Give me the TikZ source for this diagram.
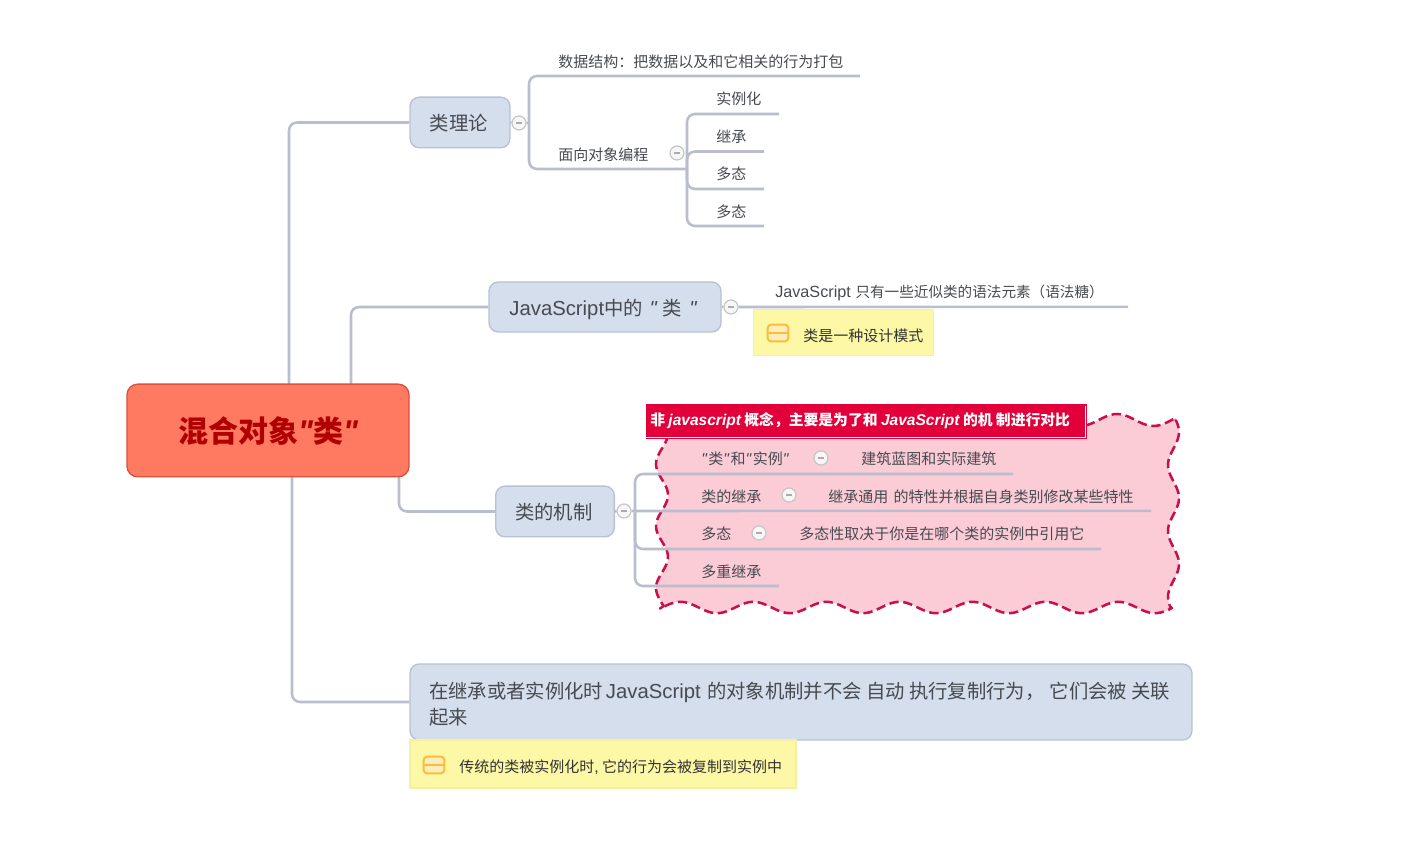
\documentclass[tikz,border=0pt]{standalone}
\usepackage{fontspec}
\setmainfont{Noto Sans CJK SC}
\newfontfamily\lat{Liberation Sans}[Scale=1.05]
\newfontfamily\latl{Liberation Sans}[Scale=1.08]
\newcommand\la[1]{{\lat #1}}
\newcommand\iq{\la{\itshape "}\hspace{1.2pt}}
\definecolor{linec}{HTML}{B9BDCD}
\definecolor{boxf}{HTML}{D5DEEC}
\definecolor{boxd}{HTML}{B9C1D2}
\definecolor{txt}{HTML}{474A50}
\definecolor{rootf}{HTML}{FF7A60}
\definecolor{rootd}{HTML}{D9503C}
\definecolor{rootth}{HTML}{B00000}
\definecolor{yelf}{HTML}{FCF8A6}
\definecolor{yeld}{HTML}{F6EFA2}
\definecolor{icond}{HTML}{F6BE3C}
\definecolor{iconf}{HTML}{FEEDB8}
\definecolor{cloudf}{HTML}{FBCBD6}
\definecolor{cloudd}{HTML}{C9104C}
\definecolor{redf}{HTML}{E3003A}
\tikzset{
  conn/.style={draw=linec,line width=1.9pt,rounded corners=6pt},
  connline/.style={draw=linec,line width=1.9pt},
  topicbox/.style={draw=boxd,line width=1pt,fill=boxf,rounded corners=7pt,text=txt,font=\fontsize{14.5}{19.5}\selectfont,inner sep=0pt,text height=12.5pt,text depth=0pt},
  rootbox/.style={draw=rootd,line width=1pt,fill=rootf,rounded corners=8pt,text=rootth,font=\fontsize{22.5}{27}\selectfont\bfseries,inner sep=0pt,text height=18.6pt,text depth=0pt},
  leaf/.style={anchor=west,inner sep=0pt,yshift=-0.75pt,text=txt,font=\fontsize{11.25}{14}\selectfont},
  notebox/.style={draw=yeld,line width=.8pt,fill=yelf,inner sep=0pt},
  collapse/.style={circle,draw=gray!45,line width=.9pt,fill=white!94!gray,minimum size=10.5pt,inner sep=0pt,
    path picture={\draw[gray!65,line width=.9pt] ([xshift=-2.5pt]path picture bounding box.center)--([xshift=2.5pt]path picture bounding box.center);}},
  noteicon/.style={draw=icond,line width=1.5pt,fill=iconf,rounded corners=2.5pt,minimum width=15.5pt,minimum height=12.5pt,inner sep=0pt,
    path picture={\draw[icond,line width=1.5pt] (path picture bounding box.west)--(path picture bounding box.east);}},
  cloudshape/.style={draw=cloudd,fill=cloudf,line width=1.9pt,dash pattern=on 7pt off 3.5pt,line join=round},
}
\newcommand\hub[3]{\coordinate (#1) at (#2,#3);}
\newcommand\straight[2]{\draw[connline] (#1) -- ([yshift=0.06pt]#2);}
\begin{document}
\begin{tikzpicture}[x=0.75pt,y=-0.75pt]
\useasboundingbox (0,0) rectangle (1428,862);
% cloud
\path[cloudshape]
  plot[domain=664:1176,samples=140] (\x,{420-6*cos((\x-1117)/73*360)})
  -- plot[domain=420:607,samples=60] ({1173.5+5.5*sin((\x-481.5)/66*360)},\x)
  -- plot[domain=1172:660,samples=140] (\x,{607.5-5.7*cos((\x-680.4)/73*360)})
  -- plot[domain=606:420,samples=60] ({662+6*sin((\x-479.5)/62*360)},\x)
  -- cycle;
% anchors
\hub{r1}{289}{384}\hub{r2}{351}{384}\hub{r3}{399}{477}\hub{r4}{292}{477}
\hub{t1}{529}{123}\hub{t2}{687}{169}\hub{t3}{635}{511}
\hub{d1}{860}{76}
\hub{e1}{779}{114}\hub{e2}{764}{151.5}\hub{e3}{764}{189}\hub{e4}{764}{226}
\hub{j1}{1128}{307}
\hub{m1}{1013}{474}\hub{m2}{1151}{511}\hub{m3}{1101}{549}\hub{m4}{779}{586}
% topics
\node[topicbox,minimum width=75pt,minimum height=38pt] (tl) at (460,122.5) {类理论\kern2pt};
\node[topicbox,minimum width=174pt,minimum height=37.5pt] (js) at (605,307) {\la{JavaScript}中的\hspace{5pt}\la{\itshape "}\hspace{4.5pt}类\hspace{5.5pt}\la{\itshape "}\kern3pt};
\node[topicbox,minimum width=89pt,minimum height=38pt] (jz) at (555,511.5) {类的机制\kern2pt};
\node[topicbox,minimum width=586.5pt,minimum height=57pt] (bt) at (801,702) {};
\node[anchor=north west,inner sep=0pt,text=txt,font=\fontsize{14.5}{19.5}\selectfont,align=left] (btt) at (429,682) {在继承或者实例化时\hspace{2pt}\la{JavaScript}\hspace{1.5pt} 的对象机制并不会 自动 执行复制行为，\hspace{4pt}它们会被 关联\\起来};
% connectors
\coordinate (c1p) at (519,123);\coordinate (c3p) at (731,307);\coordinate (c4p) at (624,511);
\node[collapse] (c1) at (c1p) {};
\node[collapse] (c2) at (677,153) {};
\node[collapse] (c3) at (c3p) {};
\node[collapse] (c4) at (c4p) {};
\node[collapse] (c5) at (821,458) {};
\node[collapse] (c6) at (789,495) {};
\node[collapse] (c7) at (759,533) {};
\draw[conn] (r1) |- (tl.west);
\draw[conn] (r2) |- (js.west);
\draw[conn] (r3) |- (jz.west);
\draw[conn] (r4) |- (bt.west);
\straight{tl.east}{c1.west}
\straight{c1.east}{t1}
\draw[conn] (t1) |- (d1);
\draw[conn] (t1) |- (t2);
\draw[conn] (t2) |- (e1);
\draw[conn] (t2) |- (e2);
\draw[conn] (t2) |- (e3);
\draw[conn] (t2) |- (e4);
\straight{js.east}{c3.west}
\straight{c3.east}{j1}
\straight{jz.east}{c4.west}
\straight{c4.east}{t3}
\draw[conn] (t3) |- (m1);
\straight{t3}{m2}
\draw[conn] (t3) |- (m3);
\draw[conn] (t3) |- (m4);
% root
\node[rootbox,minimum width=211.5pt,minimum height=69.5pt] (root) at (268,430.5) {混合对象\la{\bfseries\itshape "}类\la{\bfseries\itshape "}};
% leaves
\node[leaf] (a1) at (558,61) {数据结构：把数据以及和它相关的行为打包};
\node[leaf] (a2) at (558,154) {面向对象编程};
\node[leaf] (a3) at (716,98) {实例化};
\node[leaf] (a4) at (716,136) {继承};
\node[leaf] (a5) at (716,173) {多态};
\node[leaf] (a6) at (716,211) {多态};
\node[leaf,font=\fontsize{10.95}{14}\selectfont] (b1) at (775,292) {{\latl\fontsize{11.25}{14}\selectfont JavaScript} \hspace{1pt}只有一些近似类的语法元素（语法糖）};
\node[leaf] (m11) at (701,458) {\iq 类\iq 和\iq 实例\iq};
\node[leaf] (m12) at (861,458) {建筑蓝图和实际建筑};
\node[leaf] (m21) at (701,496) {类的继承};
\node[leaf] (m22) at (828,496) {继承通用\hspace{1.5pt} 的特性并根据自身类别修改某些特性};
\node[leaf] (m31) at (701,533) {多态};
\node[leaf] (m32) at (799,533) {多态性取决于你是在哪个类的实例中引用它};
\node[leaf] (m41) at (701,571) {多重继承};
% notes
\node[notebox,minimum width=135.5pt,minimum height=35pt] (n1) at (843.5,332.5) {};
\node[noteicon] (i1) at (778,333) {};
\node[leaf,text=black!80] (n1t) at (803,335) {类是一种设计模式};
\node[notebox,minimum width=289.5pt,minimum height=36pt] (n2) at (603,764) {};
\node[noteicon] (i2) at (434,765) {};
\node[leaf,text=black!80] (n2t) at (459,766) {传统的类被实例化时\la{,} 它的行为会被复制到实例中};
% red label
\node[fill=redf,minimum width=330.5pt,minimum height=26pt,inner sep=0pt] (lb) at (866.5,421.5) {};
\draw[white,line width=.5pt] ([xshift=-1.5pt,yshift=1.5pt]lb.south west) -- ([xshift=-1.5pt,yshift=1.5pt]lb.south east) -- ([xshift=-1.5pt,yshift=-1.5pt]lb.north east);
\node[leaf,text=white,font=\fontsize{11.1}{14}\selectfont\bfseries] (lbt) at (650,420) {非 {\lat\bfseries\itshape javascript} 概念，主要是为了和 {\lat\bfseries\itshape JavaScript} 的机 制进行对比};
\end{tikzpicture}
\end{document}
